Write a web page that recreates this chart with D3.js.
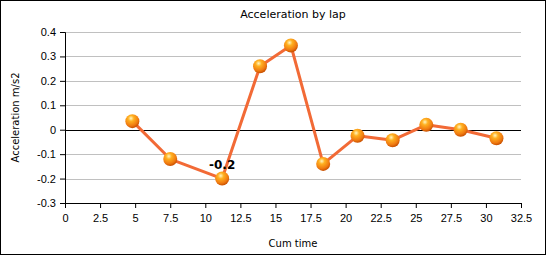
<!DOCTYPE html>
<html>
<head>
<meta charset="utf-8">
<script src="https://cdn.jsdelivr.net/npm/d3@7"></script>
<style>
  body { margin: 0; background: #fff; }
  svg { display: block; font-family: "DejaVu Sans", Verdana, sans-serif; }
  .tick text { font-size: 11px; fill: #000; }
</style>
</head>
<body>
<svg id="chart" width="546" height="255"></svg>
<script>
// data
const cumTime = [4.8, 7.5, 11.2, 13.9, 16.1, 18.4, 20.85, 23.35, 25.75, 28.2, 30.75];
const accel = [0.035, -0.12, -0.2, 0.26, 0.345, -0.14, -0.025, -0.043, 0.02, 0.0, -0.035];
const xTicks = [0, 2.5, 5, 7.5, 10, 12.5, 15, 17.5, 20, 22.5, 25, 27.5, 30, 32.5];
const yTicks = [-0.3, -0.2, -0.1, 0, 0.1, 0.2, 0.3, 0.4];
const labelIndex = 2;

const width = 546, height = 255;
const padding = { top: 32, left: 65, bottom: 52, right: 25 };
const canvasWidth = width - padding.left - padding.right;
const canvasHeight = height - padding.top - padding.bottom;

const svg = d3.select('#chart');

svg.append('rect')
  .attr('x', 0.5).attr('y', 0.5)
  .attr('width', width - 1).attr('height', height - 1)
  .attr('fill', '#fff').attr('stroke', '#000');

const defs = svg.append('defs');
const grad = defs.append('radialGradient')
  .attr('id', 'ball').attr('cx', '40%').attr('cy', '30%').attr('r', '70%');
grad.append('stop').attr('offset', '0%').attr('stop-color', '#fff6c0');
grad.append('stop').attr('offset', '30%').attr('stop-color', '#ffb020');
grad.append('stop').attr('offset', '75%').attr('stop-color', '#f07a10');
grad.append('stop').attr('offset', '100%').attr('stop-color', '#c85000');

const xScale = d3.scaleLinear().domain([0, 32.5]).range([0, canvasWidth]);
const yScale = d3.scaleLinear().domain([-0.3, 0.4]).range([canvasHeight, 0]);

const canvas = svg.append('g')
  .attr('transform', `translate(${padding.left},${padding.top})`);

// grid
canvas.append('g').selectAll('line')
  .data(yTicks)
  .join('line')
  .attr('x1', 0).attr('x2', canvasWidth)
  .attr('y1', d => Math.round(yScale(d)) + 0.5)
  .attr('y2', d => Math.round(yScale(d)) + 0.5)
  .attr('stroke', d => d === 0 ? '#000' : '#c0c0c0')
  .attr('stroke-width', 1);

const xAxis = d3.axisBottom(xScale).tickValues(xTicks).tickSize(5).tickPadding(6)
  .tickFormat(d => String(d));
const yAxis = d3.axisLeft(yScale).tickValues(yTicks).tickSize(5).tickPadding(4)
  .tickFormat(d => String(d));

const xAxisDOM = canvas.append('g')
  .attr('transform', `translate(0,${canvasHeight})`)
  .call(xAxis);
const yAxisDOM = canvas.append('g').call(yAxis);
[xAxisDOM, yAxisDOM].forEach(a => {
  a.select('.domain').attr('stroke', '#000');
  a.selectAll('.tick line').attr('stroke', '#000');
});
xAxisDOM.select('.domain').attr('d', `M0.5,0.5H${canvasWidth + 0.5}`);

// line + markers
const line = d3.line()
  .x((d, i) => xScale(cumTime[i]))
  .y(d => yScale(d));

canvas.append('path')
  .datum(accel)
  .attr('d', line)
  .attr('fill', 'none')
  .attr('stroke', '#f26a36')
  .attr('stroke-width', 3)
  .attr('stroke-linejoin', 'round');

canvas.append('g').selectAll('circle')
  .data(accel)
  .join('circle')
  .attr('cx', (d, i) => xScale(cumTime[i]))
  .attr('cy', d => yScale(d))
  .attr('r', 7)
  .attr('fill', 'url(#ball)');

canvas.append('text')
  .attr('x', xScale(cumTime[labelIndex]))
  .attr('y', yScale(accel[labelIndex]) - 10)
  .attr('text-anchor', 'middle')
  .attr('font-size', 12)
  .attr('font-weight', 'bold')
  .text(accel[labelIndex]);

// titles
svg.append('text')
  .attr('x', 293).attr('y', 18)
  .attr('text-anchor', 'middle')
  .attr('font-size', 11)
  .text('Acceleration by lap');

svg.append('text')
  .attr('x', padding.left + canvasWidth / 2).attr('y', 247)
  .attr('text-anchor', 'middle')
  .attr('font-size', 10)
  .text('Cum time');

svg.append('text')
  .attr('transform', `translate(19,${padding.top + canvasHeight / 2}) rotate(-90)`)
  .attr('text-anchor', 'middle')
  .attr('font-size', 10)
  .text('Acceleration m/s2');
</script>
</body>
</html>
